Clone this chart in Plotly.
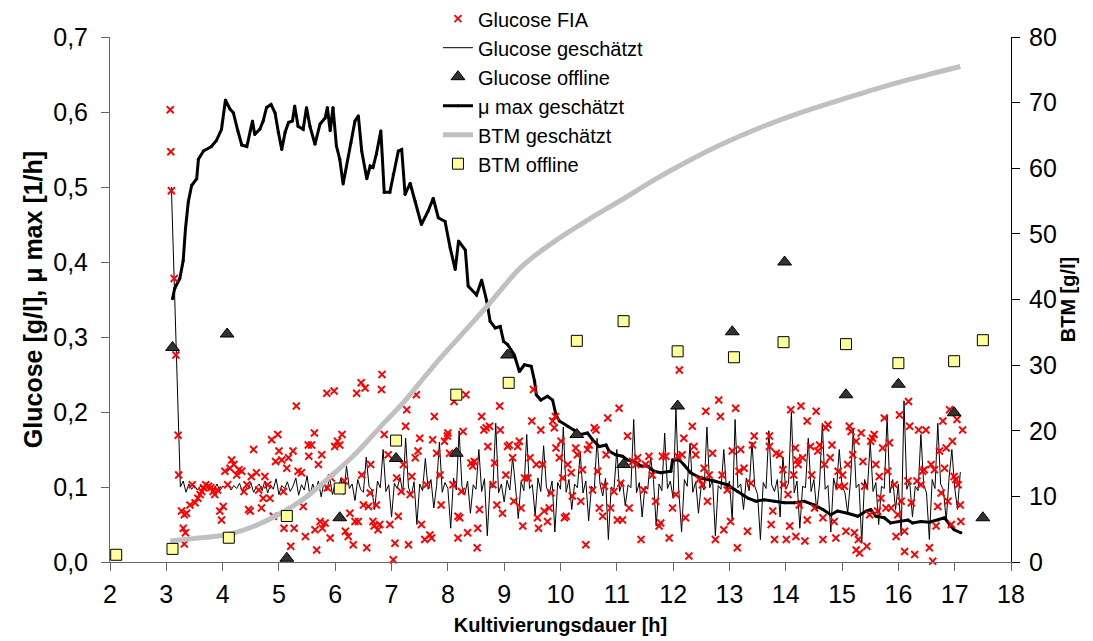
import plotly.graph_objects as go

# Glucose FIA (time [h], glucose [g/l])
glucose_fia = [
    (3.07, 0.603), (3.08, 0.547), (3.09, 0.495), (3.14, 0.378), (3.17, 0.276), (3.21, 0.169),
    (3.22, 0.116), (3.27, 0.068), (3.32, 0.063), (3.30, 0.045), (3.34, 0.039), (3.32, 0.024),
    (3.36, 0.065), (3.42, 0.076), (3.46, 0.103), (3.51, 0.079), (3.56, 0.085), (3.60, 0.090),
    (3.63, 0.094), (3.66, 0.099), (3.70, 0.103), (3.75, 0.101), (3.79, 0.099), (3.83, 0.094),
    (3.86, 0.090), (3.91, 0.096), (3.95, 0.068), (3.98, 0.056), (4.01, 0.074), (4.04, 0.121),
    (4.09, 0.103), (4.13, 0.125), (4.16, 0.136), (4.20, 0.130), (4.25, 0.116), (4.29, 0.123),
    (4.34, 0.121), (4.38, 0.094), (4.43, 0.103), (4.46, 0.070), (4.49, 0.068), (4.51, 0.114),
    (4.55, 0.150), (4.60, 0.119), (4.64, 0.096), (4.69, 0.072), (4.72, 0.085), (4.75, 0.114),
    (4.80, 0.103), (4.84, 0.085), (4.87, 0.163), (4.90, 0.061), (4.94, 0.134), (4.98, 0.170),
    (5.00, 0.148), (5.05, 0.136), (5.08, 0.094), (5.09, 0.045), (5.14, 0.125), (5.17, 0.139),
    (5.21, 0.021), (5.25, 0.148), (5.27, 0.045), (5.31, 0.208), (5.34, 0.121), (5.40, 0.119),
    (5.43, 0.074), (5.47, 0.034), (5.52, 0.156), (5.53, 0.141), (5.58, 0.156), (5.63, 0.172),
    (5.64, 0.043), (5.67, 0.016), (5.70, 0.130), (5.73, 0.054), (5.76, 0.143), (5.77, 0.045),
    (5.82, 0.052), (5.85, 0.225), (5.86, 0.099), (5.91, 0.032), (5.93, 0.112), (5.98, 0.228),
    (5.99, 0.154), (6.04, 0.161), (6.08, 0.156), (6.12, 0.170), (6.16, 0.108), (6.18, 0.041),
    (6.23, 0.034), (6.26, 0.065), (6.32, 0.023), (6.35, 0.054), (6.38, 0.225), (6.41, 0.054),
    (6.46, 0.239), (6.47, 0.116), (6.50, 0.076), (6.53, 0.232), (6.56, 0.019), (6.59, 0.074),
    (6.62, 0.092), (6.63, 0.130), (6.67, 0.054), (6.69, 0.048), (6.73, 0.076), (6.76, 0.043),
    (6.79, 0.050), (6.82, 0.230), (6.83, 0.250), (6.87, 0.170), (6.94, 0.143), (6.97, 0.050),
    (7.03, 0.003), (7.06, 0.025), (7.09, 0.112), (7.12, 0.061), (7.17, 0.094), (7.21, 0.130),
    (7.25, 0.181), (7.27, 0.203), (7.30, 0.023), (7.33, 0.090), (7.36, 0.114), (7.42, 0.139),
    (7.44, 0.223), (7.47, 0.148), (7.50, 0.165), (7.53, 0.050), (7.59, 0.030), (7.68, 0.036),
    (7.71, 0.032), (7.62, 0.103), (7.73, 0.163), (7.76, 0.194), (7.80, 0.145), (7.86, 0.116),
    (7.88, 0.076), (7.94, 0.161), (7.99, 0.168), (8.00, 0.172), (8.03, 0.145), (8.09, 0.103),
    (8.11, 0.214), (8.18, 0.061), (8.21, 0.059), (8.18, 0.032), (8.24, 0.094), (8.27, 0.174),
    (8.32, 0.223), (8.35, 0.039), (8.41, 0.132), (8.44, 0.128), (8.47, 0.134), (8.53, 0.045),
    (8.52, 0.019), (8.56, 0.070), (8.60, 0.194), (8.64, 0.176), (8.68, 0.179), (8.71, 0.154),
    (8.74, 0.181), (8.80, 0.103), (8.83, 0.132), (8.87, 0.076), (8.92, 0.208), (8.93, 0.176),
    (8.97, 0.065), (9.03, 0.116), (9.06, 0.154), (9.09, 0.156), (9.15, 0.139), (9.17, 0.081),
    (9.24, 0.154), (9.27, 0.161), (9.30, 0.072), (9.33, 0.048), (9.36, 0.112), (9.42, 0.112),
    (9.46, 0.139), (9.49, 0.188), (9.52, 0.230), (9.57, 0.130), (9.59, 0.059), (9.61, 0.045),
    (9.65, 0.176), (9.68, 0.130), (9.71, 0.068), (9.77, 0.054), (9.80, 0.072), (9.83, 0.092),
    (9.86, 0.188), (9.89, 0.179), (9.91, 0.194), (9.92, 0.152), (9.98, 0.139), (10.01, 0.161),
    (10.04, 0.112), (10.07, 0.059), (10.10, 0.061), (10.13, 0.130), (10.19, 0.119), (10.21, 0.088),
    (10.27, 0.152), (10.30, 0.143), (10.36, 0.081), (10.39, 0.123), (10.45, 0.023), (10.48, 0.150),
    (10.51, 0.156), (10.57, 0.096), (10.60, 0.179), (10.63, 0.176), (10.66, 0.121), (10.69, 0.072),
    (10.75, 0.061), (10.78, 0.101), (10.81, 0.143), (10.84, 0.192), (10.89, 0.072), (10.95, 0.094),
    (11.01, 0.056), (11.04, 0.205), (11.07, 0.105), (11.10, 0.056), (11.19, 0.168), (11.22, 0.072),
    (11.28, 0.134), (11.34, 0.130), (11.37, 0.139), (11.43, 0.030), (11.48, 0.096), (11.51, 0.130),
    (11.57, 0.141), (11.63, 0.116), (11.69, 0.081), (11.75, 0.048), (11.78, 0.052), (11.81, 0.141),
    (11.87, 0.141), (11.93, 0.032), (11.99, 0.072), (12.05, 0.090), (12.08, 0.141), (12.11, 0.256),
    (12.16, 0.143), (12.19, 0.165), (12.22, 0.059), (12.28, 0.008), (12.34, 0.181), (12.37, 0.154),
    (12.40, 0.143), (12.46, 0.110), (12.52, 0.103), (12.55, 0.125), (12.58, 0.201), (12.61, 0.081),
    (12.64, 0.116), (12.70, 0.145), (12.75, 0.030), (12.81, 0.216), (12.84, 0.194), (12.87, 0.116),
    (12.90, 0.043), (12.96, 0.096), (13.02, 0.054), (13.05, 0.148), (13.11, 0.205), (13.14, 0.019),
    (13.17, 0.121), (13.20, 0.150), (13.26, 0.125), (13.32, 0.041), (13.38, 0.105), (13.41, 0.156),
    (13.44, 0.168), (13.71, 0.168), (13.71, 0.154), (13.74, 0.050), (13.77, 0.068), (13.80, 0.030),
    (13.83, 0.145), (13.89, 0.143), (13.95, 0.123), (13.96, 0.103), (14.01, 0.030), (14.04, 0.090),
    (14.07, 0.048), (14.09, 0.203), (14.14, 0.116), (14.17, 0.152), (14.18, 0.034), (14.20, 0.136),
    (14.22, 0.130), (14.24, 0.076), (14.27, 0.208), (14.30, 0.139), (14.34, 0.028), (14.38, 0.188),
    (14.38, 0.056), (14.44, 0.154), (14.46, 0.116), (14.51, 0.072), (14.54, 0.201), (14.57, 0.148),
    (14.60, 0.156), (14.66, 0.059), (14.66, 0.030), (14.69, 0.130), (14.71, 0.179), (14.75, 0.183),
    (14.79, 0.139), (14.82, 0.156), (14.86, 0.054), (14.89, 0.032), (14.93, 0.121), (14.95, 0.101),
    (15.01, 0.116), (15.04, 0.101), (15.07, 0.041), (15.10, 0.130), (15.13, 0.181), (15.16, 0.174),
    (15.19, 0.143), (15.22, 0.039), (15.25, 0.161), (15.25, 0.016), (15.29, 0.030), (15.31, 0.012),
    (15.34, 0.172), (15.37, 0.134), (15.40, 0.101), (15.44, 0.021), (15.49, 0.063), (15.51, 0.161),
    (15.54, 0.165), (15.57, 0.170), (15.60, 0.130), (15.63, 0.068), (15.66, 0.114), (15.69, 0.085),
    (15.72, 0.152), (15.75, 0.192), (15.78, 0.072), (15.81, 0.121), (15.84, 0.159), (15.87, 0.072),
    (15.93, 0.103), (15.96, 0.034), (15.99, 0.063), (16.02, 0.196), (16.05, 0.081), (16.11, 0.014),
    (16.11, 0.041), (16.17, 0.108), (16.18, 0.214), (16.20, 0.181), (16.23, 0.079), (16.29, 0.010),
    (16.33, 0.108), (16.36, 0.176), (16.40, 0.103), (16.43, 0.121), (16.46, 0.123), (16.49, 0.176),
    (16.55, 0.019), (16.58, 0.130), (16.61, 0.001), (16.64, 0.123), (16.67, 0.048), (16.70, 0.074),
    (16.73, 0.148), (16.76, 0.092), (16.79, 0.188), (16.82, 0.125), (16.85, 0.152), (16.88, 0.081),
    (16.91, 0.203), (16.94, 0.050), (16.96, 0.161), (16.99, 0.114), (17.02, 0.110), (17.04, 0.190),
    (17.06, 0.103), (17.10, 0.076), (17.11, 0.054), (17.14, 0.176),
]

# Glucose geschätzt (time [h], glucose [g/l])
glucose_est = [
    (3.09, 0.500), (3.15, 0.350), (3.17, 0.280), (3.24, 0.105),
    (3.25, 0.100), (3.30, 0.108), (3.35, 0.093), (3.40, 0.104), (3.45, 0.097), (3.50, 0.102),
    (3.55, 0.096), (3.60, 0.101), (3.65, 0.099), (3.70, 0.103), (3.75, 0.098), (3.80, 0.100),
    (3.85, 0.097), (3.90, 0.104), (3.95, 0.095), (4.00, 0.101), (4.05, 0.099), (4.10, 0.103),
    (4.15, 0.096), (4.20, 0.102), (4.25, 0.098), (4.30, 0.105), (4.35, 0.094), (4.40, 0.101),
    (4.45, 0.097), (4.50, 0.106), (4.55, 0.093), (4.60, 0.100), (4.65, 0.104), (4.70, 0.095),
    (4.75, 0.108), (4.80, 0.092), (4.85, 0.103), (4.90, 0.097), (4.95, 0.111), (5.00, 0.090),
    (5.05, 0.102), (5.10, 0.098), (5.15, 0.107), (5.20, 0.094), (5.25, 0.101), (5.30, 0.112),
    (5.35, 0.089), (5.40, 0.103), (5.45, 0.096), (5.50, 0.115), (5.55, 0.088), (5.60, 0.104),
    (5.65, 0.094), (5.70, 0.108), (5.75, 0.087), (5.80, 0.106), (5.85, 0.095), (5.90, 0.113),
    (5.95, 0.090),
    (6.00, 0.105), (6.05, 0.095), (6.10, 0.112), (6.15, 0.090), (6.20, 0.128), (6.25, 0.098), (6.30, 0.104), (6.35, 0.082), (6.40, 0.110), (6.45, 0.097),
    (6.50, 0.093), (6.55, 0.140), (6.60, 0.101), (6.65, 0.096), (6.70, 0.070), (6.75, 0.108), (6.80, 0.099), (6.85, 0.150), (6.90, 0.094), (6.95, 0.103),
    (7.00, 0.060), (7.05, 0.105), (7.10, 0.098), (7.15, 0.113), (7.20, 0.092), (7.25, 0.165), (7.30, 0.100), (7.35, 0.088), (7.40, 0.107), (7.45, 0.050),
    (7.50, 0.104), (7.55, 0.095), (7.60, 0.138), (7.65, 0.097), (7.70, 0.110), (7.75, 0.072), (7.80, 0.102), (7.85, 0.160), (7.90, 0.093), (7.95, 0.106),
    (8.00, 0.098), (8.05, 0.045), (8.10, 0.112), (8.15, 0.096), (8.20, 0.175), (8.25, 0.101), (8.30, 0.090), (8.35, 0.108), (8.40, 0.065), (8.45, 0.103),
    (8.50, 0.097), (8.55, 0.150), (8.60, 0.094), (8.65, 0.111), (8.70, 0.035), (8.75, 0.105), (8.80, 0.099), (8.85, 0.185), (8.90, 0.092), (8.95, 0.104),
    (9.00, 0.080), (9.05, 0.109), (9.10, 0.096), (9.15, 0.140), (9.20, 0.101), (9.25, 0.058), (9.30, 0.107), (9.35, 0.095), (9.40, 0.170), (9.45, 0.098),
    (9.50, 0.103), (9.55, 0.062), (9.60, 0.112), (9.65, 0.094), (9.70, 0.155), (9.75, 0.100), (9.80, 0.090), (9.85, 0.108), (9.90, 0.040), (9.95, 0.106),
    (10.00, 0.097), (10.05, 0.180), (10.10, 0.093), (10.15, 0.110), (10.20, 0.070), (10.25, 0.104), (10.30, 0.099), (10.35, 0.145), (10.40, 0.092), (10.45, 0.108),
    (10.50, 0.055), (10.55, 0.101), (10.60, 0.096), (10.65, 0.165), (10.70, 0.105), (10.75, 0.088), (10.80, 0.112), (10.85, 0.030), (10.90, 0.100), (10.95, 0.097),
    (11.00, 0.150), (11.05, 0.094), (11.10, 0.108), (11.15, 0.075), (11.20, 0.103), (11.25, 0.099), (11.30, 0.190), (11.35, 0.092), (11.40, 0.106), (11.45, 0.060),
    (11.50, 0.101), (11.55, 0.097), (11.60, 0.140), (11.65, 0.110), (11.70, 0.048), (11.75, 0.104), (11.80, 0.095), (11.85, 0.172), (11.90, 0.098), (11.95, 0.108),
    (12.00, 0.085), (12.05, 0.205), (12.10, 0.096), (12.15, 0.040), (12.20, 0.110), (12.25, 0.101), (12.30, 0.158), (12.35, 0.093), (12.40, 0.107), (12.45, 0.065),
    (12.50, 0.103), (12.55, 0.096), (12.60, 0.180), (12.65, 0.099), (12.70, 0.110), (12.75, 0.035), (12.80, 0.102), (12.85, 0.097), (12.90, 0.150), (12.95, 0.094),
    (13.00, 0.108), (13.05, 0.055), (13.10, 0.190), (13.15, 0.099), (13.20, 0.104), (13.25, 0.070), (13.30, 0.112), (13.35, 0.095), (13.40, 0.160), (13.45, 0.101),
    (13.50, 0.090), (13.55, 0.030), (13.60, 0.106), (13.65, 0.098), (13.70, 0.175), (13.75, 0.103), (13.80, 0.094), (13.85, 0.110), (13.90, 0.060), (13.95, 0.140),
    (14.00, 0.097), (14.05, 0.105), (14.10, 0.200), (14.15, 0.092), (14.20, 0.108), (14.25, 0.045), (14.30, 0.101), (14.35, 0.099), (14.40, 0.165), (14.45, 0.094),
    (14.50, 0.110), (14.55, 0.068), (14.60, 0.104), (14.65, 0.185), (14.70, 0.097), (14.75, 0.102), (14.80, 0.040), (14.85, 0.112), (14.90, 0.096), (14.95, 0.150),
    (15.00, 0.101), (15.05, 0.093), (15.10, 0.065), (15.15, 0.108), (15.20, 0.178), (15.25, 0.099), (15.30, 0.104), (15.35, 0.025), (15.40, 0.110), (15.45, 0.097),
    (15.50, 0.160), (15.55, 0.094), (15.60, 0.106), (15.65, 0.050), (15.70, 0.101), (15.75, 0.098), (15.80, 0.195), (15.85, 0.092), (15.90, 0.110), (15.95, 0.070),
    (16.00, 0.104), (16.05, 0.035), (16.10, 0.215), (16.15, 0.097), (16.20, 0.108), (16.25, 0.060), (16.30, 0.101), (16.35, 0.095), (16.40, 0.170), (16.45, 0.103),
    (16.50, 0.092), (16.55, 0.030), (16.60, 0.110), (16.65, 0.098), (16.70, 0.185), (16.75, 0.104), (16.80, 0.096), (16.85, 0.055), (16.90, 0.112), (16.95, 0.150),
    (17.00, 0.099), (17.05, 0.070), (17.10, 0.120),
]

# Glucose offline (time [h], glucose [g/l])
glucose_offline_t = [3.11, 4.08, 5.14, 6.08, 7.08, 8.15, 9.06, 10.29, 11.12, 12.08, 13.05, 13.98, 15.07, 16.0, 16.99, 17.50]
glucose_offline_v = [0.286, 0.304, 0.005, 0.059, 0.138, 0.145, 0.276, 0.170, 0.130, 0.208, 0.307, 0.400, 0.223, 0.237, 0.199, 0.059]

# mu max geschätzt (time [h], mu [1/h])
mu_max = [
    (3.11, 0.351), (3.15, 0.365), (3.24, 0.378), (3.30, 0.402), (3.34, 0.444), (3.39, 0.480),
    (3.45, 0.502), (3.54, 0.511), (3.57, 0.537), (3.66, 0.548), (3.80, 0.554), (3.89, 0.562),
    (3.98, 0.577), (4.05, 0.616), (4.13, 0.604), (4.19, 0.599), (4.27, 0.575), (4.34, 0.556),
    (4.43, 0.554), (4.49, 0.575), (4.53, 0.588), (4.57, 0.570), (4.66, 0.577), (4.72, 0.588),
    (4.78, 0.606), (4.86, 0.610), (4.93, 0.599), (4.99, 0.573), (5.05, 0.550), (5.11, 0.573),
    (5.17, 0.586), (5.24, 0.588), (5.28, 0.608), (5.34, 0.581), (5.43, 0.577), (5.49, 0.606),
    (5.55, 0.581), (5.64, 0.557), (5.73, 0.584), (5.82, 0.592), (5.86, 0.606), (5.91, 0.575),
    (5.96, 0.606), (6.02, 0.555), (6.08, 0.537), (6.14, 0.504), (6.20, 0.528), (6.28, 0.559),
    (6.35, 0.588), (6.41, 0.595), (6.47, 0.548), (6.56, 0.511), (6.62, 0.528), (6.67, 0.526),
    (6.73, 0.544), (6.81, 0.575), (6.87, 0.493), (6.97, 0.493), (7.03, 0.517), (7.12, 0.548),
    (7.18, 0.550), (7.24, 0.490), (7.33, 0.505), (7.42, 0.481), (7.53, 0.450), (7.65, 0.468),
    (7.74, 0.485), (7.83, 0.459), (7.95, 0.454), (8.04, 0.419), (8.13, 0.390), (8.19, 0.428),
    (8.31, 0.416), (8.36, 0.368), (8.51, 0.356), (8.60, 0.376), (8.69, 0.348), (8.75, 0.321),
    (8.84, 0.312), (8.93, 0.314), (8.99, 0.294), (9.06, 0.290), (9.18, 0.276), (9.27, 0.254),
    (9.36, 0.263), (9.48, 0.261), (9.54, 0.241), (9.57, 0.223), (9.65, 0.216), (9.77, 0.221),
    (9.86, 0.216), (9.92, 0.196), (9.98, 0.188), (10.13, 0.181), (10.24, 0.176), (10.36, 0.170),
    (10.48, 0.172), (10.57, 0.163), (10.69, 0.154), (10.81, 0.156), (10.86, 0.148), (10.98, 0.143),
    (11.10, 0.141), (11.19, 0.136), (11.31, 0.134), (11.43, 0.128), (11.54, 0.128), (11.66, 0.121),
    (11.78, 0.119), (11.96, 0.121), (11.99, 0.136), (12.11, 0.136), (12.19, 0.130), (12.31, 0.119),
    (12.49, 0.112), (12.73, 0.108), (12.96, 0.103), (13.14, 0.094), (13.26, 0.088), (13.33, 0.085),
    (13.47, 0.081), (13.62, 0.083), (13.80, 0.081), (13.98, 0.079), (14.15, 0.079), (14.33, 0.081),
    (14.51, 0.076), (14.66, 0.070), (14.80, 0.063), (14.92, 0.068), (15.10, 0.065), (15.28, 0.061),
    (15.43, 0.068), (15.51, 0.070), (15.60, 0.061), (15.75, 0.059), (15.86, 0.052), (16.01, 0.054),
    (16.17, 0.056), (16.25, 0.052), (16.40, 0.054), (16.55, 0.053), (16.70, 0.056), (16.82, 0.059),
    (16.91, 0.050), (16.99, 0.043), (17.11, 0.039),
]

# BTM geschätzt (time [h], BTM [g/l])
btm_est_t = [3.07, 3.5, 4.1, 4.6, 5.05, 5.5, 5.99, 6.3, 6.59, 6.9, 7.2, 7.47, 7.89, 8.24, 8.72, 9.31,
             9.9, 10.5, 11.09, 11.68, 12.27, 12.9, 13.52, 14.2, 15.0, 15.8, 16.5, 17.1]
btm_est_v = [3.2, 3.6, 4.2, 5.6, 7.5, 10.0, 13.6, 16.0, 18.6, 21.5, 24.2, 27.0, 31.3, 34.6, 39.2, 45.0,
             48.9, 52.2, 55.2, 58.3, 61.1, 63.8, 66.1, 68.3, 70.5, 72.6, 74.2, 75.5]

# BTM offline (time [h], BTM [g/l])
btm_offline_t = [2.11, 3.11, 4.11, 5.14, 6.08, 7.08, 8.15, 9.08, 10.29, 11.12, 12.08, 13.08, 13.96, 15.07, 16.0, 16.99, 17.50]
btm_offline_v = [1.1, 2.0, 3.7, 7.0, 11.2, 18.5, 25.5, 27.3, 33.7, 36.7, 32.1, 31.2, 33.5, 33.2, 30.3, 30.6, 33.8]

FONT = "Liberation Sans, Arial, sans-serif"

fig = go.Figure()

# Glucose geschätzt
fig.add_trace(
    go.Scatter(
        x=[p[0] for p in glucose_est],
        y=[p[1] for p in glucose_est],
        mode="lines",
        name="Glucose geschätzt",
        legendrank=2,
        line=dict(color="black", width=1)
    )
)

# mu max geschätzt
fig.add_trace(
    go.Scatter(
        x=[p[0] for p in mu_max],
        y=[p[1] for p in mu_max],
        mode="lines+markers",
        name="μ max geschätzt",
        legendrank=4,
        line=dict(color="black", width=3),
        marker=dict(color="black", size=3)
    )
)

# BTM geschätzt
fig.add_trace(
    go.Scatter(
        x=btm_est_t,
        y=btm_est_v,
        mode="lines",
        name="BTM geschätzt",
        legendrank=5,
        yaxis="y2",
        line=dict(color="#C0C0C0", width=5, shape="spline")
    )
)

# Glucose FIA
fig.add_trace(
    go.Scatter(
        x=[p[0] for p in glucose_fia],
        y=[p[1] for p in glucose_fia],
        mode="markers",
        name="Glucose FIA",
        legendrank=1,
        cliponaxis=False,
        marker=dict(symbol="x-thin", size=7, color="red", line=dict(color="red", width=1.8))
    )
)

# Glucose offline
fig.add_trace(
    go.Scatter(
        x=glucose_offline_t,
        y=glucose_offline_v,
        mode="markers",
        name="Glucose offline",
        legendrank=3,
        cliponaxis=False,
        marker=dict(symbol="triangle-up", size=12, color="#333333", line=dict(color="black", width=1))
    )
)

# BTM offline
fig.add_trace(
    go.Scatter(
        x=btm_offline_t,
        y=btm_offline_v,
        mode="markers",
        name="BTM offline",
        legendrank=6,
        yaxis="y2",
        cliponaxis=False,
        marker=dict(symbol="square", size=11, color="#FFFF99", line=dict(color="black", width=1))
    )
)

fig.update_layout(
    width=1093,
    height=641,
    paper_bgcolor="white",
    plot_bgcolor="white",
    separators=", ",
    font=dict(family=FONT, color="black", size=25),
    margin=dict(l=102, r=90, t=29, b=87, autoexpand=False),
    showlegend=True,
    legend=dict(
        x=0.364,
        y=1.072,
        xanchor="left",
        yanchor="top",
        bgcolor="rgba(255,255,255,0)",
        font=dict(family=FONT, size=20),
        tracegroupgap=0,
        itemwidth=30
    ),
    xaxis=dict(
        range=[2, 18],
        dtick=1,
        showgrid=False,
        zeroline=False,
        showline=True,
        linecolor="#666666",
        ticks="outside",
        ticklen=8,
        tickcolor="#666666",
        tickfont=dict(size=25),
        ticklabelstandoff=2,
        automargin=False,
        title=dict(text="<b>Kultivierungsdauer [h]</b>", font=dict(size=20), standoff=10)
    ),
    yaxis=dict(
        range=[0, 0.7],
        dtick=0.1,
        tickformat=".1f",
        showgrid=False,
        zeroline=False,
        showline=True,
        linecolor="#666666",
        ticks="outside",
        ticklen=8,
        tickcolor="#666666",
        tickfont=dict(size=25),
        ticklabelstandoff=8,
        automargin=False,
        title=dict(text="<b>Glucose [g/l], μ max [1/h]</b>", font=dict(size=25), standoff=3)
    ),
    yaxis2=dict(
        range=[0, 80],
        dtick=10,
        overlaying="y",
        side="right",
        showgrid=False,
        zeroline=False,
        showline=True,
        linecolor="black",
        ticks="outside",
        ticklen=8,
        tickcolor="black",
        tickfont=dict(size=25),
        ticklabelstandoff=4,
        automargin=False,
        title=dict(text="<b>BTM [g/l]</b>", font=dict(size=20), standoff=4)
    )
)

fig.write_html("out.html")
